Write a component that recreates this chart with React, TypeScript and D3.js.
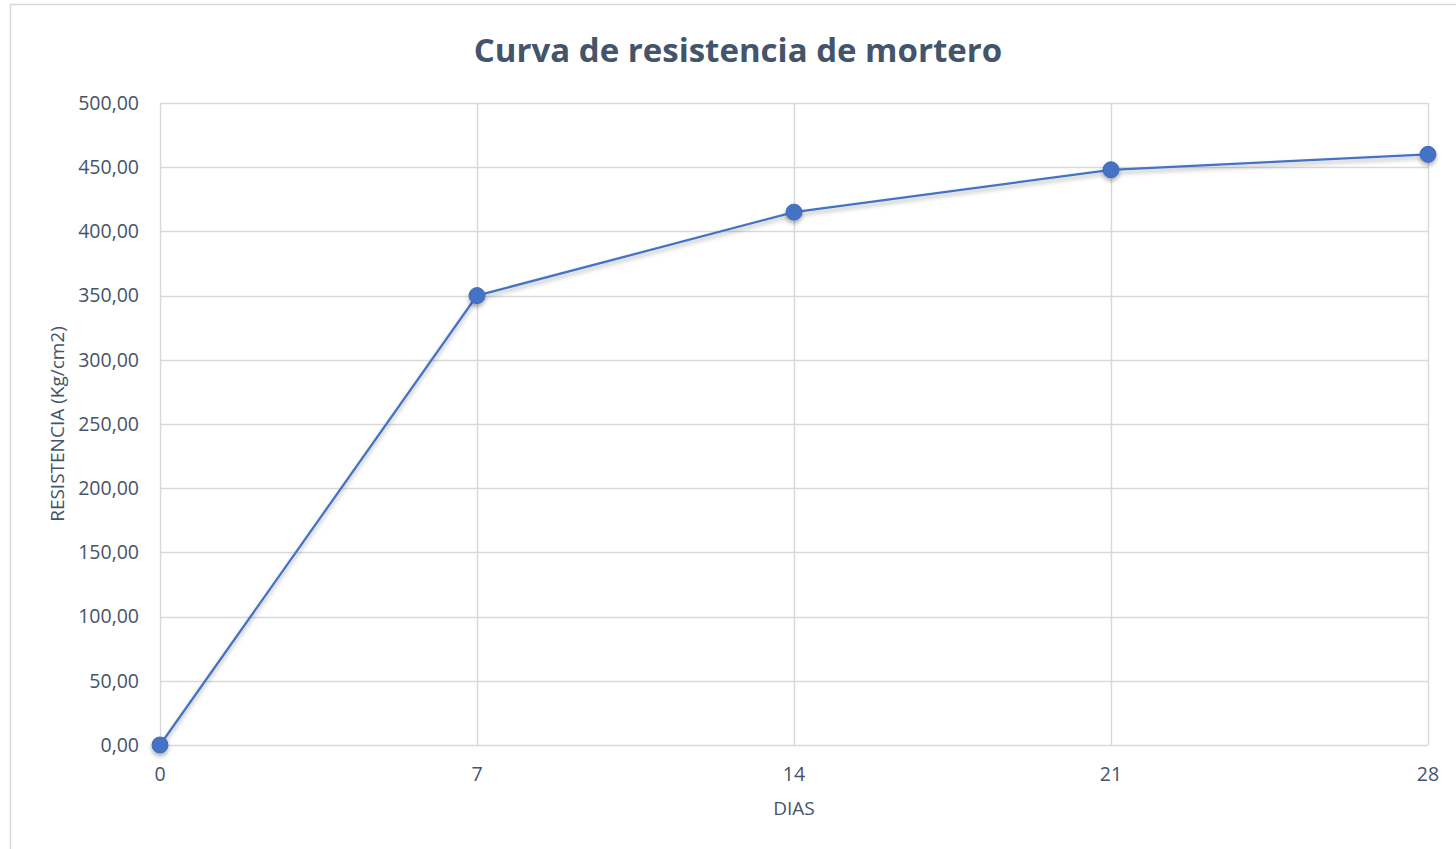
import React, { useEffect, useRef } from 'react';
import * as d3 from 'd3';

const dias: number[] = [0, 7, 14, 21, 28];
const resistencia: number[] = [0, 350, 415, 448, 460];
const yTicks: number[] = [0, 50, 100, 150, 200, 250, 300, 350, 400, 450, 500];

const TEXT = '#44546A';
const GRID = '#D9D9D9';
const BLUE = '#4472C4';

const App: React.FC = () => {
  const svgRef = useRef<SVGSVGElement>(null);

  useEffect(() => {
    if (!svgRef.current) return;
    const svg = d3.select(svgRef.current);
    svg.selectAll('*').remove();

    const width = 1456;
    const height = 849;
    svg.attr('width', width).attr('height', height);

    const defs = svg.append('defs');
    const f = defs
      .append('filter')
      .attr('id', 'shadow')
      .attr('x', '-20%')
      .attr('y', '-20%')
      .attr('width', '140%')
      .attr('height', '160%');
    f.append('feDropShadow')
      .attr('dx', 0)
      .attr('dy', 3)
      .attr('stdDeviation', 2)
      .attr('flood-color', '#000')
      .attr('flood-opacity', 0.3);

    svg
      .append('rect')
      .attr('x', 10.5)
      .attr('y', 4.5)
      .attr('width', 1455)
      .attr('height', 860)
      .attr('fill', '#fff')
      .attr('stroke', GRID)
      .attr('stroke-width', 1.5);

    const left = 160;
    const right = 1428;
    const top = 103;
    const bottom = 745;

    const x = d3.scaleLinear().domain([0, 28]).range([left, right]);
    const y = d3.scaleLinear().domain([0, 500]).range([bottom, top]);

    const fmt = (v: number) => v.toFixed(2).replace('.', ',');

    // gridlines
    svg
      .append('g')
      .selectAll('line')
      .data(yTicks)
      .join('line')
      .attr('x1', left)
      .attr('x2', right)
      .attr('y1', (d) => Math.round(y(d)) + 0.5)
      .attr('y2', (d) => Math.round(y(d)) + 0.5)
      .attr('stroke', GRID)
      .attr('stroke-width', 1.5);

    svg
      .append('g')
      .selectAll('line')
      .data(dias)
      .join('line')
      .attr('x1', (d) => Math.round(x(d)) + 0.5)
      .attr('x2', (d) => Math.round(x(d)) + 0.5)
      .attr('y1', top)
      .attr('y2', bottom)
      .attr('stroke', GRID)
      .attr('stroke-width', 1.5);

    // y tick labels
    svg
      .append('g')
      .selectAll('text')
      .data(yTicks)
      .join('text')
      .attr('x', 139)
      .attr('y', (d) => y(d))
      .attr('dy', '0.35em')
      .attr('text-anchor', 'end')
      .attr('font-family', 'Open Sans')
      .attr('font-size', 19.5)
      .attr('fill', TEXT)
      .text((d) => fmt(d));

    // x tick labels
    svg
      .append('g')
      .selectAll('text')
      .data(dias)
      .join('text')
      .attr('x', (d) => x(d))
      .attr('y', 781)
      .attr('text-anchor', 'middle')
      .attr('font-family', 'Open Sans')
      .attr('font-size', 19.5)
      .attr('fill', TEXT)
      .text((d) => String(d));

    // axis titles
    svg
      .append('text')
      .attr('x', 794)
      .attr('y', 815)
      .attr('text-anchor', 'middle')
      .attr('font-family', 'Open Sans')
      .attr('font-size', 19)
      .attr('fill', TEXT)
      .text('DIAS');

    svg
      .append('text')
      .attr('transform', 'translate(64,424) rotate(-90)')
      .attr('text-anchor', 'middle')
      .attr('font-family', 'Open Sans')
      .attr('font-size', 19)
      .attr('fill', TEXT)
      .text('RESISTENCIA (Kg/cm2)');

    // title
    svg
      .append('text')
      .attr('x', 738)
      .attr('y', 62)
      .attr('text-anchor', 'middle')
      .attr('font-family', 'Open Sans')
      .attr('font-weight', 'bold')
      .attr('font-size', 33)
      .attr('fill', TEXT)
      .text('Curva de resistencia de mortero');

    const points = dias.map((d, i) => [d, resistencia[i]] as [number, number]);

    const line = d3
      .line<[number, number]>()
      .x((d) => x(d[0]))
      .y((d) => y(d[1]));

    svg
      .append('path')
      .datum(points)
      .attr('fill', 'none')
      .attr('stroke', BLUE)
      .attr('stroke-width', 2.25)
      .attr('filter', 'url(#shadow)')
      .attr('d', line as any);

    svg
      .append('g')
      .attr('filter', 'url(#shadow)')
      .selectAll('circle')
      .data(points)
      .join('circle')
      .attr('cx', (d) => x(d[0]))
      .attr('cy', (d) => y(d[1]))
      .attr('r', 8)
      .attr('fill', BLUE)
      .attr('stroke', '#3F6BBF')
      .attr('stroke-width', 1);
  }, []);

  return (
    <div style={{ position: 'absolute', left: 0, top: 0 }}>
      <svg ref={svgRef} style={{ display: 'block' }}></svg>
    </div>
  );
};

export default App;
